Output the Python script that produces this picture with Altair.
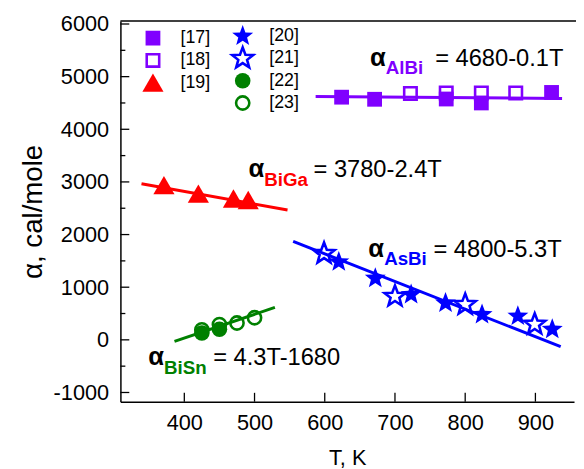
import altair as alt
import pandas as pd

# ---------------- data ----------------
T17 = [624, 671, 773, 823, 923]
A17 = [4610, 4570, 4575, 4500, 4700]
T18 = [722, 773, 823, 872]
A18 = [4680, 4690, 4690, 4690]
T19 = [371, 420, 470, 491]
A19 = [2938, 2779, 2685, 2657]
T20 = [620, 672, 723, 772, 824, 875, 924]
A20 = [1480, 1170, 860, 700, 480, 450, 200]
T21 = [599, 700, 800, 899]
A21 = [1640, 825, 670, 295]
T22 = [425, 450]
A22 = [130, 200]
T23 = [425, 450, 475, 500]
A23 = [190, 290, 320, 420]

# fitted lines: endpoints
fit_names = ["AlBi", "BiGa", "AsBi", "BiSn"]
fit_T1 = [587, 339, 555, 386]
fit_T2 = [938, 547, 936, 529]
fit_A1 = [4621, 2966, 1870, -30]
fit_A2 = [4586, 2466, -130, 615]
fit_eq = ["= 4680-0.1T", "= 3780-2.4T", "= 4800-5.3T", "= 4.3T-1680"]
lab_T = [664.5, 491.3, 662.1, 348.5]
lab_A = [5202, 3088, 1575, -487]

legend_labels = ["[17]", "[18]", "[19]", "[20]", "[21]", "[22]", "[23]"]

x_ticks = [400, 500, 600, 700, 800, 900]
y_labels = [-1000, 0, 1000, 2000, 3000, 4000, 5000, 6000]
y_minor = [-500, 500, 1500, 2500, 3500, 4500, 5500]

# ---------------- style ----------------
PURPLE = "#8000ff"
RED = "#ff0000"
BLUE = "#0000ff"
GREEN = "#008000"
fit_colors = [PURPLE, RED, BLUE, GREEN]
W, H = 460, 386
FONT = "Liberation Sans"
STAR_PATH = ("M0,-1L0.247,-0.34L0.951,-0.309L0.399,0.13L0.588,0.809L0,0.42"
             "L-0.588,0.809L-0.399,0.13L-0.951,-0.309L-0.247,-0.34Z")

xs = alt.Scale(domain=[309, 955], nice=False, zero=False)
ys = alt.Scale(domain=[-1175, 6056], nice=False, zero=False)
xa = alt.Axis(values=x_ticks, title="T, K", labelFontSize=22, titleFontSize=22,
              labelPadding=11, titlePadding=15, labelExpr="'' + datum.value")
ya = alt.Axis(values=y_labels, title="α, cal/mole", labelFontSize=22, titleFontSize=28,
              labelPadding=12, titlePadding=6, labelExpr="'' + datum.value")


def X(f):
    return alt.X(f, type="quantitative", scale=xs, axis=xa)


def Y(f):
    return alt.Y(f, type="quantitative", scale=ys, axis=ya)


# lines
rows = []
for n, t1, t2, a1, a2, c in zip(fit_names, fit_T1, fit_T2, fit_A1, fit_A2, fit_colors):
    rows.append({"s": n, "T": t1, "A": a1, "c": c})
    rows.append({"s": n, "T": t2, "A": a2, "c": c})
lines = alt.Chart(pd.DataFrame(rows)).mark_line(strokeWidth=3).encode(
    x=X("T"), y=Y("A"), detail="s:N", color=alt.Color("c:N", scale=None))


def pts(T, A, shape, color, filled, size, sw=2.6):
    df = pd.DataFrame({"T": T, "A": A})
    if filled:
        m = alt.Chart(df).mark_point(shape=shape, filled=True, color=color, size=size, opacity=1)
    else:
        m = alt.Chart(df).mark_point(shape=shape, filled=False, color=color, size=size,
                                     strokeWidth=sw, opacity=1)
    return m.encode(x=X("T"), y=Y("A"))


SQ_F, SQ_O, TRI, STAR, CIR_F, CIR_O = 225, 160, 460, 500, 250, 180
series = [
    (T17, A17, "square", PURPLE, True, SQ_F),
    (T18, A18, "square", PURPLE, False, SQ_O),
    (T19, A19, "triangle-up", RED, True, TRI),
    (T20, A20, STAR_PATH, BLUE, True, STAR),
    (T21, A21, STAR_PATH, BLUE, False, STAR),
    (T22, A22, "circle", GREEN, True, CIR_F),
    (T23, A23, "circle", GREEN, False, CIR_O),
]
point_layers = [pts(*s) for s in series]

# ticks (inside)
yt_major = alt.Chart(pd.DataFrame({"v": y_labels})).mark_rule(color="black", strokeWidth=1.3).encode(
    y=Y("v"), x=alt.value(0), x2=alt.value(9))
yt_minor = alt.Chart(pd.DataFrame({"v": y_minor})).mark_rule(color="black", strokeWidth=1.3).encode(
    y=Y("v"), x=alt.value(0), x2=alt.value(5))
xt_major = alt.Chart(pd.DataFrame({"v": x_ticks})).mark_rule(color="black", strokeWidth=1.3).encode(
    x=X("v"), y=alt.value(H), y2=alt.value(H - 9))
top_border = alt.Chart(pd.DataFrame({"v": [0]})).mark_rule(color="black", strokeWidth=1.5).encode(
    y=alt.value(0), x=alt.value(0), x2=alt.value(W + 2))

# legend (two columns, column-major)
leg_rows = []
col_len = [3, 4]
col_mx = [33, 124]
col_tx = [61, 151]
col_y0 = [17.3, 15.3]
pitch = 22.6
k = 0
for ci, n in enumerate(col_len):
    for r in range(n):
        leg_rows.append({"lab": legend_labels[k], "mx": col_mx[ci], "tx": col_tx[ci],
                         "py": col_y0[ci] + r * pitch, "k": k})
        k += 1
leg_df = pd.DataFrame(leg_rows)
leg_layers = []
for i, s in enumerate(series):
    _, _, shape, color, filled, size = s
    sub = leg_df[leg_df.k == i]
    if filled:
        m = alt.Chart(sub).mark_point(shape=shape, filled=True, color=color, size=size, opacity=1)
    else:
        m = alt.Chart(sub).mark_point(shape=shape, filled=False, color=color, size=size,
                                      strokeWidth=2.6, opacity=1)
    leg_layers.append(m.encode(x=alt.X("mx:Q", scale=None, axis=None),
                               y=alt.Y("py:Q", scale=None, axis=None)))
leg_text = alt.Chart(leg_df).mark_text(align="left", baseline="middle", font=FONT, fontSize=18,
                                       color="black").encode(
    x=alt.X("tx:Q", scale=None, axis=None), y=alt.Y("py:Q", scale=None, axis=None), text="lab:N")

# annotations
ann = pd.DataFrame({"n": fit_names, "eq": fit_eq, "T": lab_T, "A": lab_A, "c": fit_colors})
ann_alpha = alt.Chart(ann).mark_text(text="α", align="left", baseline="alphabetic", font=FONT,
                                     fontSize=26, fontWeight="bold", color="black").encode(
    x=X("T"), y=Y("A"))
ann_sub = alt.Chart(ann).mark_text(align="left", baseline="alphabetic", font=FONT, fontSize=19,
                                   fontWeight="bold", dx=16, dy=8.5).encode(
    x=X("T"), y=Y("A"), text="n:N", color=alt.Color("c:N", scale=None))
ann_eq = alt.Chart(ann).mark_text(align="left", baseline="alphabetic", font=FONT, fontSize=24,
                                  color="black", dx=66).encode(
    x=X("T"), y=Y("A"), text="eq:N")

chart = alt.layer(
    lines, *point_layers, yt_major, yt_minor, xt_major, top_border,
    *leg_layers, leg_text, ann_alpha, ann_sub, ann_eq
).properties(
    width=W, height=H,
    autosize=alt.AutoSizeParams(type="none"),
    padding={"left": 114, "top": 10, "right": 2, "bottom": 64},
).configure_view(stroke=None).configure_axis(
    domainColor="black", domainWidth=1.5, ticks=False, tickSize=0, grid=False,
    labelFont=FONT, titleFont=FONT, labelColor="black", titleColor="black",
    titleFontWeight="normal",
)

chart.save("out.html", embed_options={"renderer": "svg", "actions": False})
